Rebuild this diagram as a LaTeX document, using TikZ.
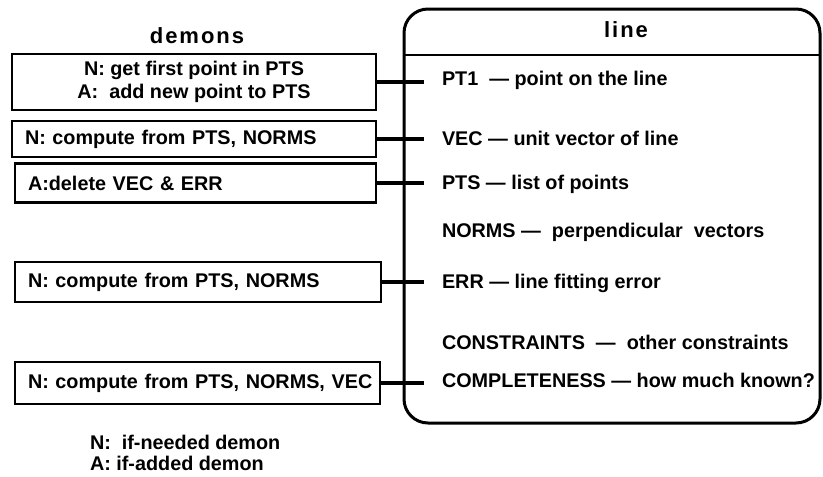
\documentclass[tikz,border=0pt]{standalone}
\usepackage{fontspec}
\setmainfont{Liberation Sans}
\begin{document}
\begin{tikzpicture}[x=1pt,y=-1pt,
  every node/.style={font=\fontsize{19.8}{23}\selectfont\bfseries, inner sep=0pt, outer sep=0pt},
  demonbox/.style={draw, line width=2.6pt, inner xsep=13pt, inner ysep=0pt},
  conn/.style={line width=3.8pt},
  slot/.style={anchor=west},
  title/.style={font=\fontsize{22}{26}\selectfont\bfseries\addfontfeature{LetterSpace=9}}
]
\useasboundingbox (0,0) rectangle (823,477);
% frame
\draw[line width=3pt, rounded corners=24pt] (404,9) rectangle (820,423);
\draw[line width=2.5pt] (404,55) -- (820,55);
\node[title] (tl) at (626,30) {line};
\node[title] (td) at (197,36) {demons};
% demon boxes
\node[demonbox, minimum width=364pt, minimum height=56pt, align=center] (b1) at (194,82)
  {N: get first point in PTS\\A:\ \ add new point to PTS};
\node[demonbox, minimum width=364pt, minimum height=36pt, text width=338pt, align=left] (b2) at (194,139)
  {N: compute from PTS, NORMS};
\node[demonbox, minimum width=361pt, minimum height=39pt, text width=335pt, align=left] (b3) at (195.5,183)
  {A:delete VEC \& ERR};
\node[demonbox, minimum width=366pt, minimum height=40pt, text width=340pt, align=left] (b4) at (198,282)
  {N: compute from PTS, NORMS};
\node[demonbox, minimum width=365pt, minimum height=42pt, text width=339pt, align=left] (b5) at (197.5,383)
  {\mbox{N: compute from PTS, NORMS, VEC}};
% slots
\node[slot] (s1) at (442,80) {PT1\ \ --- point on the line};
\node[slot] (s2) at (442,138) {VEC --- unit vector of line};
\node[slot] (s3) at (442,184) {PTS --- list of points};
\node[slot] (s4) at (442,232) {NORMS ---\ \ perpendicular\ \ vectors};
\node[slot] (s5) at (442,283) {ERR --- line fitting error};
\node[slot] (s6) at (442,342) {CONSTRAINTS\ \ ---\ \ other constraints};
\node[slot] (s7) at (442,380) {COMPLETENESS --- how much known?};
% connector ends
\coordinate (c1) at (424,82);
\coordinate (c2) at (424,139);
\coordinate (c3) at (424,183);
\coordinate (c4) at (424,282);
\coordinate (c5) at (424,383);
\draw[conn] (b1.east) -- (c1);
\draw[conn] (b2.east) -- (c2);
\draw[conn] (b3.east) -- (c3);
\draw[conn] (b4.east) -- (c4);
\draw[conn] (b5.east) -- (c5);
% legend
\node[anchor=west] (l1) at (90,442) {N:\ \ if-needed demon};
\node[anchor=west] (l2) at (90,463) {A: if-added demon};
\end{tikzpicture}
\end{document}
